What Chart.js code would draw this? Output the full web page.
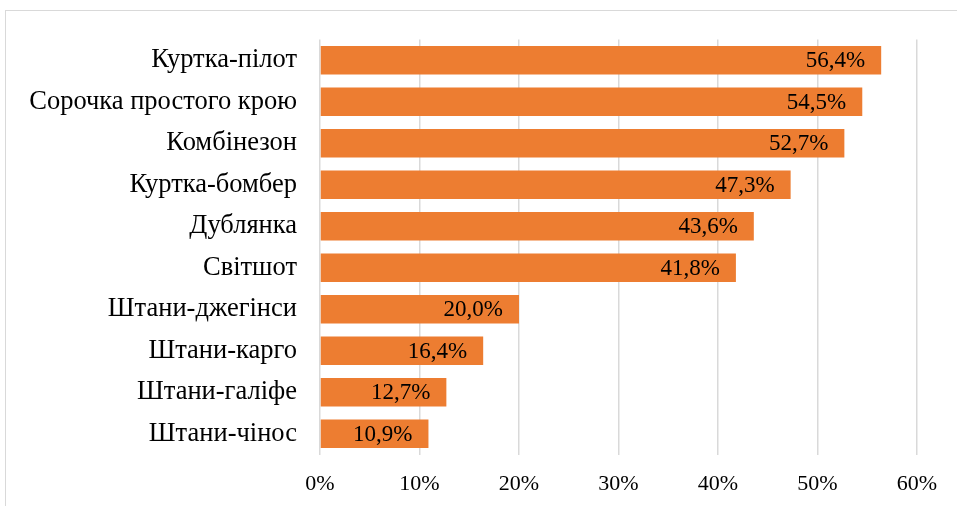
<!DOCTYPE html>
<html>
<head>
<meta charset="utf-8">
<script src="https://cdn.jsdelivr.net/npm/chart.js@4"></script>
<style>
  html, body { margin: 0; padding: 0; background: #fff; overflow: hidden; }
  #wrap { position: relative; width: 957px; height: 506px; }
  #frame { position: absolute; left: 5px; top: 10px; width: 960px; height: 510px; border: 1px solid #d9d9d9; box-sizing: border-box; }
  canvas { position: absolute; left: 0; top: 0; }
</style>
</head>
<body>
<div id="wrap">
  <div id="frame"></div>
  <canvas id="grafico" width="957" height="506"></canvas>
</div>
<script>
// Дані діаграми
const categorias = ['Куртка-пілот', 'Сорочка простого крою', 'Комбінезон', 'Куртка-бомбер', 'Дублянка', 'Світшот', 'Штани-джегінси', 'Штани-карго', 'Штани-галіфе', 'Штани-чінос'];
const valores = [56.4, 54.5, 52.7, 47.3, 43.6, 41.8, 20.0, 16.4, 12.7, 10.9];
const ticksX = [0, 10, 20, 30, 40, 50, 60];

const fonte = 'Liberation Serif, Times New Roman, serif';

// Підписи всередині кінця стовпця
const rotulosPlugin = {
    id: 'rotulos',
    afterDatasetsDraw(chart) {
        const ctx = chart.ctx;
        const meta = chart.getDatasetMeta(0);
        ctx.save();
        ctx.font = '23px ' + fonte;
        ctx.fillStyle = '#000';
        ctx.textAlign = 'right';
        ctx.textBaseline = 'middle';
        meta.data.forEach((barra, i) => {
            const txt = valores[i].toFixed(1).replace('.', ',') + '%';
            ctx.fillText(txt, barra.x - 16, barra.y + 1);
        });
        ctx.restore();
    }
};

new Chart(document.getElementById('grafico').getContext('2d'), {
    type: 'bar',
    data: {
        labels: categorias,
        datasets: [{
            data: valores,
            backgroundColor: '#ED7D31',
            borderWidth: 0,
            barPercentage: 0.69,
            categoryPercentage: 1
        }]
    },
    plugins: [rotulosPlugin],
    options: {
        indexAxis: 'y',
        responsive: false,
        animation: false,
        layout: { padding: { left: 0, right: 40, top: 39.5, bottom: 0 } },
        plugins: {
            legend: { display: false },
            tooltip: { enabled: false }
        },
        scales: {
            y: {
                afterFit: (s) => { s.width = 320; },
                grid: { display: false },
                border: { display: false },
                ticks: {
                    padding: 15,
                    color: '#000',
                    font: { family: fonte, size: 26.5 }
                }
            },
            x: {
                min: 0,
                max: 60,
                afterFit: (s) => { s.height = 51.5; },
                afterBuildTicks: (s) => { s.ticks = ticksX.map(v => ({ value: v })); },
                grid: { color: '#d9d9d9', lineWidth: 1.5, drawTicks: false },
                border: { display: false },
                ticks: {
                    padding: 17,
                    color: '#000',
                    font: { family: fonte, size: 22 },
                    callback: (v) => v + '%'
                }
            }
        }
    }
});
</script>
</body>
</html>
